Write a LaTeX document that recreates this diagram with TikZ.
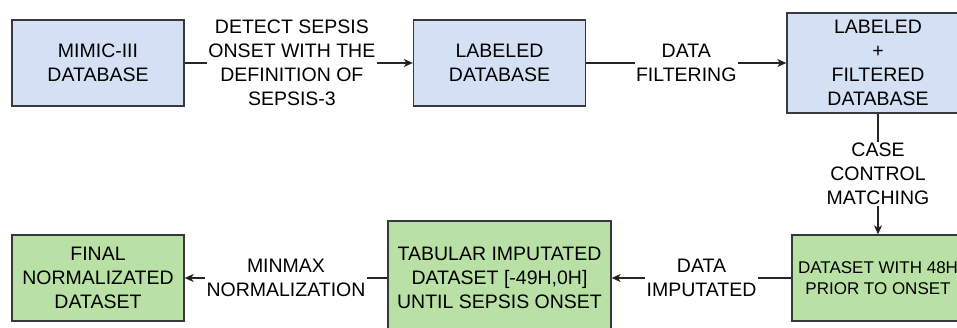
\documentclass[tikz,border=0pt]{standalone}
\usepackage{fontspec}
\setmainfont{Liberation Sans}
\usetikzlibrary{arrows.meta}
\definecolor{boxblue}{HTML}{D4E1F5}
\definecolor{boxgreen}{HTML}{B9E0A5}
\definecolor{boxline}{HTML}{36393D}
\tikzset{Blue/.style={draw=boxline, fill=boxblue, line width=1.3pt, align=center, inner sep=0pt},
         Green/.style={draw=boxline, fill=boxgreen, line width=1.3pt, align=center, inner sep=0pt},
         Small/.style={minimum width=172pt, minimum height=86pt},
         Flow/.style={line width=1.3pt, draw=black!85, -{Stealth[length=9pt, width=8pt, inset=2.5pt]}},
         Lbl/.style={fill=white, align=center, inner sep=1.5pt}}

\begin{document}
\begin{tikzpicture}[x=1pt, y=-1pt, font=\fontsize{19.5}{24}\selectfont]
    \useasboundingbox (0,0) rectangle (957,328);
    \node[Blue, Small] (Mimic) at (98,63) {MIMIC-III\\DATABASE};
    \node[Blue, Small] (Labeled) at (499.5,63) {LABELED\\DATABASE};
    \node[Blue, minimum width=182pt, minimum height=100pt] (Filtered) at (878,63) {LABELED\\+\\FILTERED\\DATABASE};
    \node[Green, Small, font=\fontsize{17}{21}\selectfont] (Window) at (878,278) {DATASET WITH 48H\\PRIOR TO ONSET};
    \node[Green, minimum width=223pt, minimum height=114pt] (Tabular) at (499.5,278) {TABULAR IMPUTATED\\DATASET [-49H,0H]\\UNTIL SEPSIS ONSET};
    \node[Green, Small] (Final) at (98,278) {FINAL\\NORMALIZATED\\DATASET};
  \path[Flow]
    (Mimic) edge node[Lbl, pos=0.47] {DETECT SEPSIS\\ONSET WITH THE\\DEFINITION OF\\SEPSIS-3} (Labeled)
    (Labeled) edge node[Lbl] {DATA\\FILTERING} (Filtered)
    (Filtered) edge node[Lbl] {CASE\\CONTROL\\MATCHING} (Window)
    (Window) edge node[Lbl] {DATA\\IMPUTATED} (Tabular)
    (Tabular) edge node[Lbl] {MINMAX\\NORMALIZATION} (Final);
\end{tikzpicture}
\end{document}
